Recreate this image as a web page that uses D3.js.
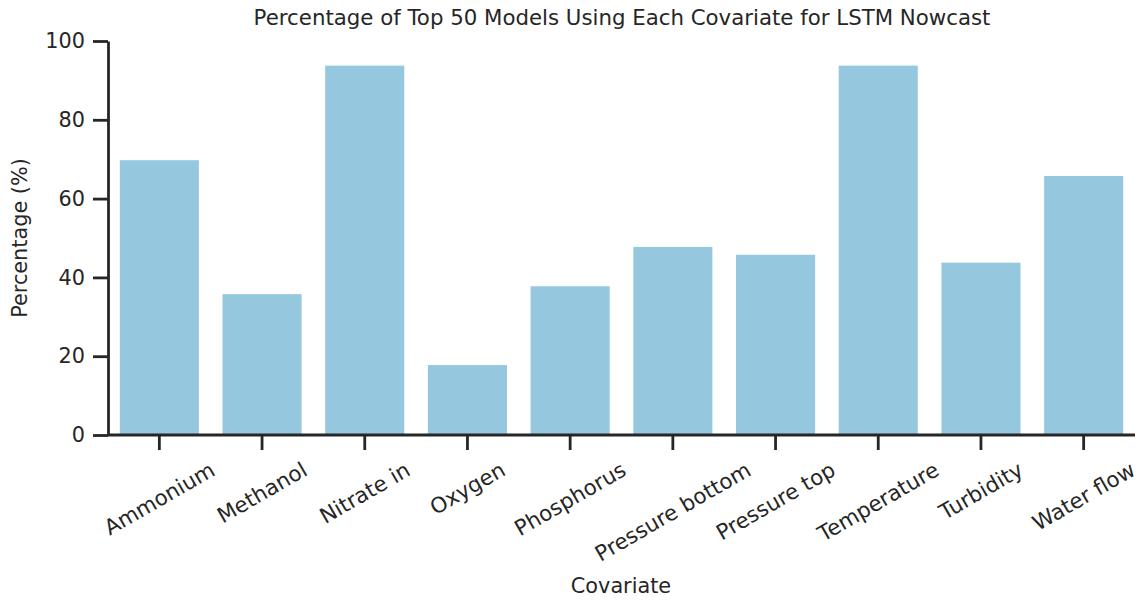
<!DOCTYPE html>
<html><head><meta charset="utf-8">
<script src="https://cdn.jsdelivr.net/npm/d3@7"></script>
<style>body{margin:0;background:#fff}svg{display:block}text{font-family:"DejaVu Sans",sans-serif;fill:#262626}</style>
</head><body><svg id="c" width="1138" height="600"></svg>
<script>
const categories = ["Ammonium","Methanol","Nitrate in","Oxygen","Phosphorus","Pressure bottom","Pressure top","Temperature","Turbidity","Water flow"];
const values = [70,36,94,18,38,48,46,94,44,66];
const yTicks = [0,20,40,60,80,100];
const title = "Percentage of Top 50 Models Using Each Covariate for LSTM Nowcast";
const xLabel = "Covariate", yLabel = "Percentage (%)";

const svg = d3.select("#c");
const L = 108, R = 1135, T = 41, B = 435;
const x = d3.scaleBand().domain(categories).range([L, R]).paddingInner(0.23).paddingOuter(0.115);
const y = d3.scaleLinear().domain([0,100]).range([B, T]);
const ink = "#262626";
const fs = 20.8, xfs = 21.4;

svg.append("g").selectAll("rect").data(values).join("rect")
  .attr("x",(d,i)=>x(categories[i])).attr("width",x.bandwidth())
  .attr("y",d=>y(d)+1).attr("height",d=>y(0)-y(d)-1).attr("fill","#95c8df");

// y axis
const gy = svg.append("g").attr("transform",`translate(${L},0)`)
  .call(d3.axisLeft(y).tickValues(yTicks).tickSize(15).tickPadding(8).tickSizeOuter(0));
gy.select(".domain").attr("stroke",ink).attr("stroke-width",2.8);
gy.selectAll(".tick line").attr("stroke",ink).attr("stroke-width",2.8);
gy.selectAll(".tick text").attr("font-size",fs).style("fill",ink);

// x axis
const gx = svg.append("g").attr("transform",`translate(0,${B})`)
  .call(d3.axisBottom(x).tickSize(15).tickSizeOuter(0));
gx.select(".domain").attr("stroke",ink).attr("stroke-width",2.8).attr("d",`M${L},0H${R}`);
gx.selectAll(".tick line").attr("stroke",ink).attr("stroke-width",2.8);
gx.selectAll(".tick text").attr("font-size",xfs).style("fill",ink)
  .attr("text-anchor","middle").attr("dominant-baseline","central")
  .attr("y",null).attr("dy",null)
  .each(function(){
    const t = d3.select(this);
    const w = this.getComputedTextLength();
    const h = xfs*1.05;
    const a = Math.PI/6;
    const bh = w*Math.sin(a) + h*Math.cos(a);
    t.attr("transform",`translate(0,${15+8+bh/2}) rotate(-30)`);
  });

svg.append("text").attr("x",622).attr("y",25).attr("text-anchor","middle")
  .attr("font-size",21.3).text(title);
svg.append("text").attr("x",621).attr("y",593).attr("text-anchor","middle")
  .attr("font-size",fs).text(xLabel);
svg.append("text").attr("transform",`translate(27,${(T+B)/2}) rotate(-90)`).attr("text-anchor","middle")
  .attr("font-size",fs).text(yLabel);
</script></body></html>
